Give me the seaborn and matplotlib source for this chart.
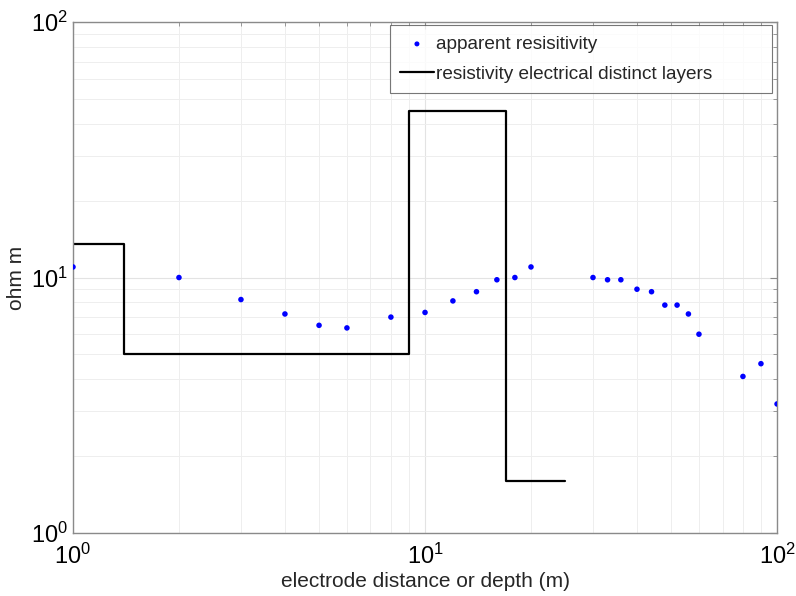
import numpy as np
import pandas as pd
import matplotlib
matplotlib.use('Agg')
import matplotlib.pyplot as plt
import seaborn as sns

sns.set_style('white')
plt.rcParams['font.family'] = ['Liberation Sans', 'DejaVu Sans']

# Pomiary: odległość elektrod (m) i opór pozorny (ohm m)
electrode_distance = [1, 2, 3, 4, 5, 6, 8, 10, 12, 14, 16, 18, 20,
                      30, 33, 36, 40, 44, 48, 52, 56, 60, 80, 90, 100]
apparent_resistivity = [11, 10, 8.2, 7.2, 6.5, 6.35, 7.0, 7.3, 8.1, 8.8, 9.8, 10, 11,
                        10, 9.8, 9.8, 9.0, 8.8, 7.8, 7.8, 7.2, 6.0, 4.1, 4.6, 3.2]

# Model warstwowy: granice warstw (m) i opór warstw (ohm m)
layer_depth = [1, 1.4, 9, 17, 25]
layer_resistivity = [13.5, 5, 45, 1.6, 1.6]

df_points = pd.DataFrame({'x': electrode_distance, 'y': apparent_resistivity})
df_layers = pd.DataFrame({'x': layer_depth, 'y': layer_resistivity})

fig = plt.figure(figsize=(7.96, 5.96), dpi=100)
ax = fig.add_axes([0.0917, 0.1057, 0.8845, 0.8573])

sns.scatterplot(data=df_points, x='x', y='y', ax=ax, color='#0000ff', s=16,
                edgecolor='none', label='apparent resisitivity', zorder=3)
sns.lineplot(data=df_layers, x='x', y='y', ax=ax, color='black', linewidth=1.6,
             drawstyle='steps-post', estimator=None, sort=False,
             label='resistivity electrical distinct layers', zorder=2)

ax.set_xscale('log')
ax.set_yscale('log')
ax.set_xlim(1, 100)
ax.set_ylim(1, 100)

ax.grid(True, which='major', color='#e3e3e3', linewidth=0.8)
ax.grid(True, which='minor', color='#eeeeee', linewidth=0.7)
ax.set_axisbelow(True)

for sp in ax.spines.values():
    sp.set_color('#8a8a8a')
    sp.set_linewidth(1.0)

ax.tick_params(which='both', direction='in', top=True, right=True,
               colors='#8a8a8a', labelcolor='black')
ax.tick_params(which='major', length=5, labelsize=17)
ax.tick_params(which='minor', length=3)
ax.tick_params(axis='x', which='major', pad=8)

ax.set_xlabel('electrode distance or depth (m)', fontsize=15, labelpad=2)
ax.set_ylabel('ohm m', fontsize=15, labelpad=4)

# legenda w stylu MATLAB - szeroka ramka
leg = ax.legend(loc='upper left', bbox_to_anchor=(0.450, 0.863, 0.543, 0.131),
                mode='expand', fontsize=13.7, frameon=True, fancybox=False,
                edgecolor='#555555', borderaxespad=0, handlelength=1.75,
                handletextpad=0.15, borderpad=0.55, labelspacing=0.65, markerscale=0.9)
leg.get_frame().set_linewidth(0.8)

fig.savefig('out.png', dpi=100)
